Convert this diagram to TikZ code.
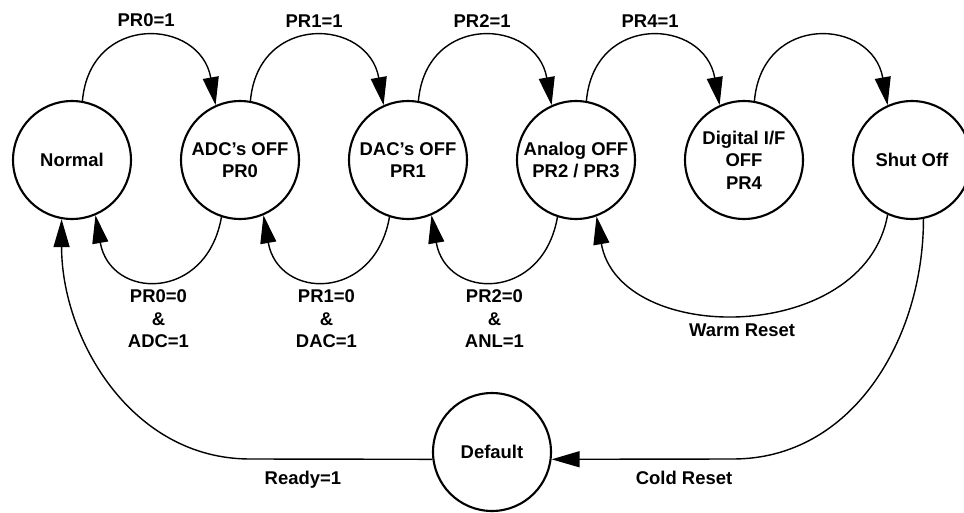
\documentclass[tikz,border=0pt]{standalone}
\usepackage{fontspec}
\setmainfont{Liberation Sans}
\usepackage{tikz}
\usetikzlibrary{arrows.meta}
\tikzstyle{line} = [draw, line width=0.8pt, -{Triangle[length=0.56cm,width=0.32cm]}]
\begin{document}
\begin{tikzpicture}[x=0.02cm, y=0.02cm,
        font=\fontsize{10.5}{12.8}\selectfont\bfseries,
        powerstate/.style={draw, circle, line width=1.2pt, inner sep=0pt,
            minimum size=2.36cm, align=center}]
        \useasboundingbox (0,0) rectangle (964,512);
        %% Vertices
        \node [powerstate] at (72,352) (Normal) {Normal};
        \node [powerstate] at (240,352) (ADC) {ADC's OFF\\PR0};
        \node [powerstate] at (408,352) (DAC) {DAC's OFF\\PR1};
        \node [powerstate] at (576,352) (Analog) {Analog OFF\\PR2 / PR3};
        \node [powerstate] at (744,352) (Digital) {Digital I/F\\OFF\\PR4};
        \node [powerstate] at (912,352) (ShutOff) {Shut Off};
        \node [powerstate] at (492,60) (Default) {Default};
        \coordinate (ColdBend) at (733,53);
        \coordinate (ReadyBend) at (250,53);
        %% Arcs
        \path [line] (Normal.80) to [out=85, in=100, looseness=1.7] node [midway, above=2pt] (SetPRzero) {PR0=1} (ADC.114);
        \path [line] (ADC.80) to [out=85, in=100, looseness=1.7] node [midway, above=2pt] (SetPRone) {PR1=1} (DAC.114);
        \path [line] (DAC.80) to [out=85, in=100, looseness=1.7] node [midway, above=2pt] (SetPRtwo) {PR2=1} (Analog.114);
        \path [line] (Analog.80) to [out=85, in=100, looseness=1.7] node [midway, above=2pt] (SetPRfour) {PR4=1} (Digital.114);
        \path [line] (Digital.80) to [out=85, in=100, looseness=1.7] (ShutOff.114);
        \path [line] (ADC.252) to [out=-100, in=-80, looseness=1.75] node [midway, below=2pt, align=center] (ClrPRzero) {PR0=0\\\&\\ADC=1} (Normal.293);
        \path [line] (DAC.252) to [out=-100, in=-80, looseness=1.75] node [midway, below=2pt, align=center] (ClrPRone) {PR1=0\\\&\\DAC=1} (ADC.293);
        \path [line] (Analog.252) to [out=-100, in=-80, looseness=1.75] node [midway, below=2pt, align=center] (ClrPRtwo) {PR2=0\\\&\\ANL=1} (DAC.293);
        \path [line] (ShutOff.246) to [out=-100, in=-80, looseness=1.16] node [midway, below=2pt] (WarmLabel) {Warm Reset} (Analog.290);
        \path [line] (ShutOff.281) to [out=-90, in=0] (ColdBend) -- node [pos=0.27, below=3pt] (ColdLabel) {Cold Reset} (Default.-7);
        \path [line] (Default.187) -- node [pos=0.71, below=3pt] (ReadyLabel) {Ready=1} (ReadyBend) to [out=180, in=-90] (Normal.260);
    \end{tikzpicture}
\end{document}
